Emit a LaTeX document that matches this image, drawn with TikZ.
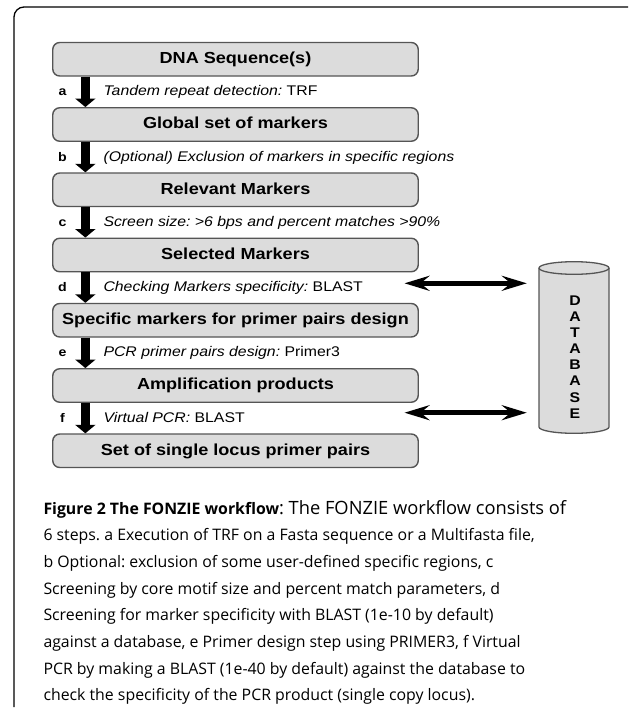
\documentclass[tikz,border=0pt]{standalone}
\usepackage{fontspec}
\setmainfont{Open Sans}
\newfontfamily\arialx[FakeStretch=1.13]{Liberation Sans}
\usetikzlibrary{arrows.meta}
\definecolor{boxfill}{HTML}{DCDCDC}
\definecolor{boxline}{HTML}{555555}
\frenchspacing
\begin{document}
\begin{tikzpicture}[x=1pt,y=-1pt,
 stepbox/.style={draw=boxline, fill=boxfill, line width=1.4pt, rounded corners=7pt,
   minimum width=365.5pt, minimum height=33.5pt, inner sep=0pt,
   font=\arialx\bfseries\fontsize{16}{18}\selectfont, text height=11.5pt, text depth=3pt},
 flowarrow/.style={line width=8.3pt, -{Triangle[length=8.5pt,width=20pt]}},
 dbarrow/.style={line width=5pt, {Stealth[length=25pt,width=15pt,inset=9pt]}-{Stealth[length=25pt,width=15pt,inset=9pt]}},
 steptext/.style={anchor=base west, inner sep=0pt, font=\arialx\fontsize{14}{16}\selectfont},
 steptag/.style={anchor=base, inner sep=0pt, font=\arialx\bfseries\fontsize{12.5}{14}\selectfont},
 captext/.style={anchor=base west, inner sep=0pt, font=\fontsize{15.85}{20}\selectfont},
 framestyle/.style={line width=1.3pt, draw=black},
]
\useasboundingbox (0,0) rectangle (633,710);
\fill[white] (0,0) rectangle (633,710);

% frame
\draw[framestyle] (14,707) -- (14,17) arc[start angle=180,end angle=270,radius=10] -- (628,7);

% boxes
\node[stepbox] (b1) at (235.5,59.25) {DNA Sequence(s)};
\node[stepbox] (b2) at (235.5,124.5) {Global set of markers};
\node[stepbox] (b3) at (235.5,189.75) {Relevant Markers};
\node[stepbox] (b4) at (235.5,255) {Selected Markers};
\node[stepbox] (b5) at (235.5,320.25) {Specific markers for primer pairs design};
\node[stepbox] (b6) at (235.5,385.5) {Amplification products};
\node[stepbox] (b7) at (235.5,450.75) {Set of single locus primer pairs};

% flow arrows
\draw[flowarrow] ([xshift=33.3pt]b1.south west) -- ([xshift=33.3pt]b2.north west);
\draw[flowarrow] ([xshift=33.3pt]b2.south west) -- ([xshift=33.3pt]b3.north west);
\draw[flowarrow] ([xshift=33.3pt]b3.south west) -- ([xshift=33.3pt]b4.north west);
\draw[flowarrow] ([xshift=33.3pt]b4.south west) -- ([xshift=33.3pt]b5.north west);
\draw[flowarrow] ([xshift=33.3pt]b5.south west) -- ([xshift=33.3pt]b6.north west);
\draw[flowarrow] ([xshift=33.3pt]b6.south west) -- ([xshift=33.3pt]b7.north west);

% step tags
\node[steptag] (ta) at (62.5,95.9) {a};
\node[steptag] (tb) at (62.5,161.15) {b};
\node[steptag] (tc) at (62.5,226.4) {c};
\node[steptag] (td) at (62.5,291.65) {d};
\node[steptag] (te) at (62.5,356.9) {e};
\node[steptag] (tf) at (62.5,422.15) {f};

% step texts
\node[steptext] (sa) at (103.3,95.9) {\itshape Tandem repeat detection:\upshape{} TRF};
\node[steptext] (sb) at (103.3,161.15) {\itshape (Optional) Exclusion of markers in specific regions};
\node[steptext] (sc) at (103.3,226.4) {\itshape Screen size: >6 bps and percent matches >90\%};
\node[steptext] (sd) at (103.3,291.65) {\itshape Checking Markers specificity:\upshape{} BLAST};
\node[steptext] (se) at (103.3,356.9) {\itshape PCR primer pairs design:\upshape{} Primer3};
\node[steptext] (sf) at (103.3,422.15) {\itshape Virtual PCR:\upshape{} BLAST};

% database cylinder
\node[minimum width=70pt, minimum height=171.6pt, inner sep=0pt] (db) at (574,347.5) {};
\fill[boxfill] (539,268) -- (539,427) arc[start angle=180,end angle=0,x radius=35,y radius=6.3]
  -- (609,268) arc[start angle=0,end angle=-180,x radius=35,y radius=6.3] -- cycle;
\draw[boxline, line width=1.3pt] (539,268) -- (539,427) arc[start angle=180,end angle=0,x radius=35,y radius=6.3] -- (609,268);
\draw[boxline, line width=1.3pt] (574,268) ellipse[x radius=35,y radius=6.3];
\node[align=center, inner sep=0pt, font=\arialx\bfseries\fontsize{14}{16.1}\selectfont] (dbtext) at (575,357)
  {D\\A\\T\\A\\B\\A\\S\\E};

% database arrows
\coordinate (l1) at (404.5,283.3);
\coordinate (l2) at (404.5,412.7);
\draw[dbarrow, shorten >=12pt] (l1) -- (l1 -| db.west);
\draw[dbarrow, shorten >=12pt] (l2) -- (l2 -| db.west);

% caption
\node[captext] (c1) at (43.3,514) {\textbf{Figure 2 The FONZIE workflow}{\fontsize{18.3}{20}\selectfont: The FONZIE workflow consists of}};
\node[captext] (c2) at (43.3,540.7) {6 steps. a Execution of TRF on a Fasta sequence or a Multifasta file,};
\node[captext] (c3) at (43.3,567.4) {b Optional: exclusion of some user-defined specific regions, c};
\node[captext] (c4) at (43.3,594.1) {Screening by core motif size and percent match parameters, d};
\node[captext] (c5) at (43.3,620.8) {Screening for marker specificity with BLAST (1e-10 by default)};
\node[captext] (c6) at (43.3,647.5) {against a database, e Primer design step using PRIMER3, f Virtual};
\node[captext] (c7) at (43.3,674.2) {PCR by making a BLAST (1e-40 by default) against the database to};
\node[captext] (c8) at (43.3,700.9) {check the specificity of the PCR product (single copy locus).};
\end{tikzpicture}
\end{document}
